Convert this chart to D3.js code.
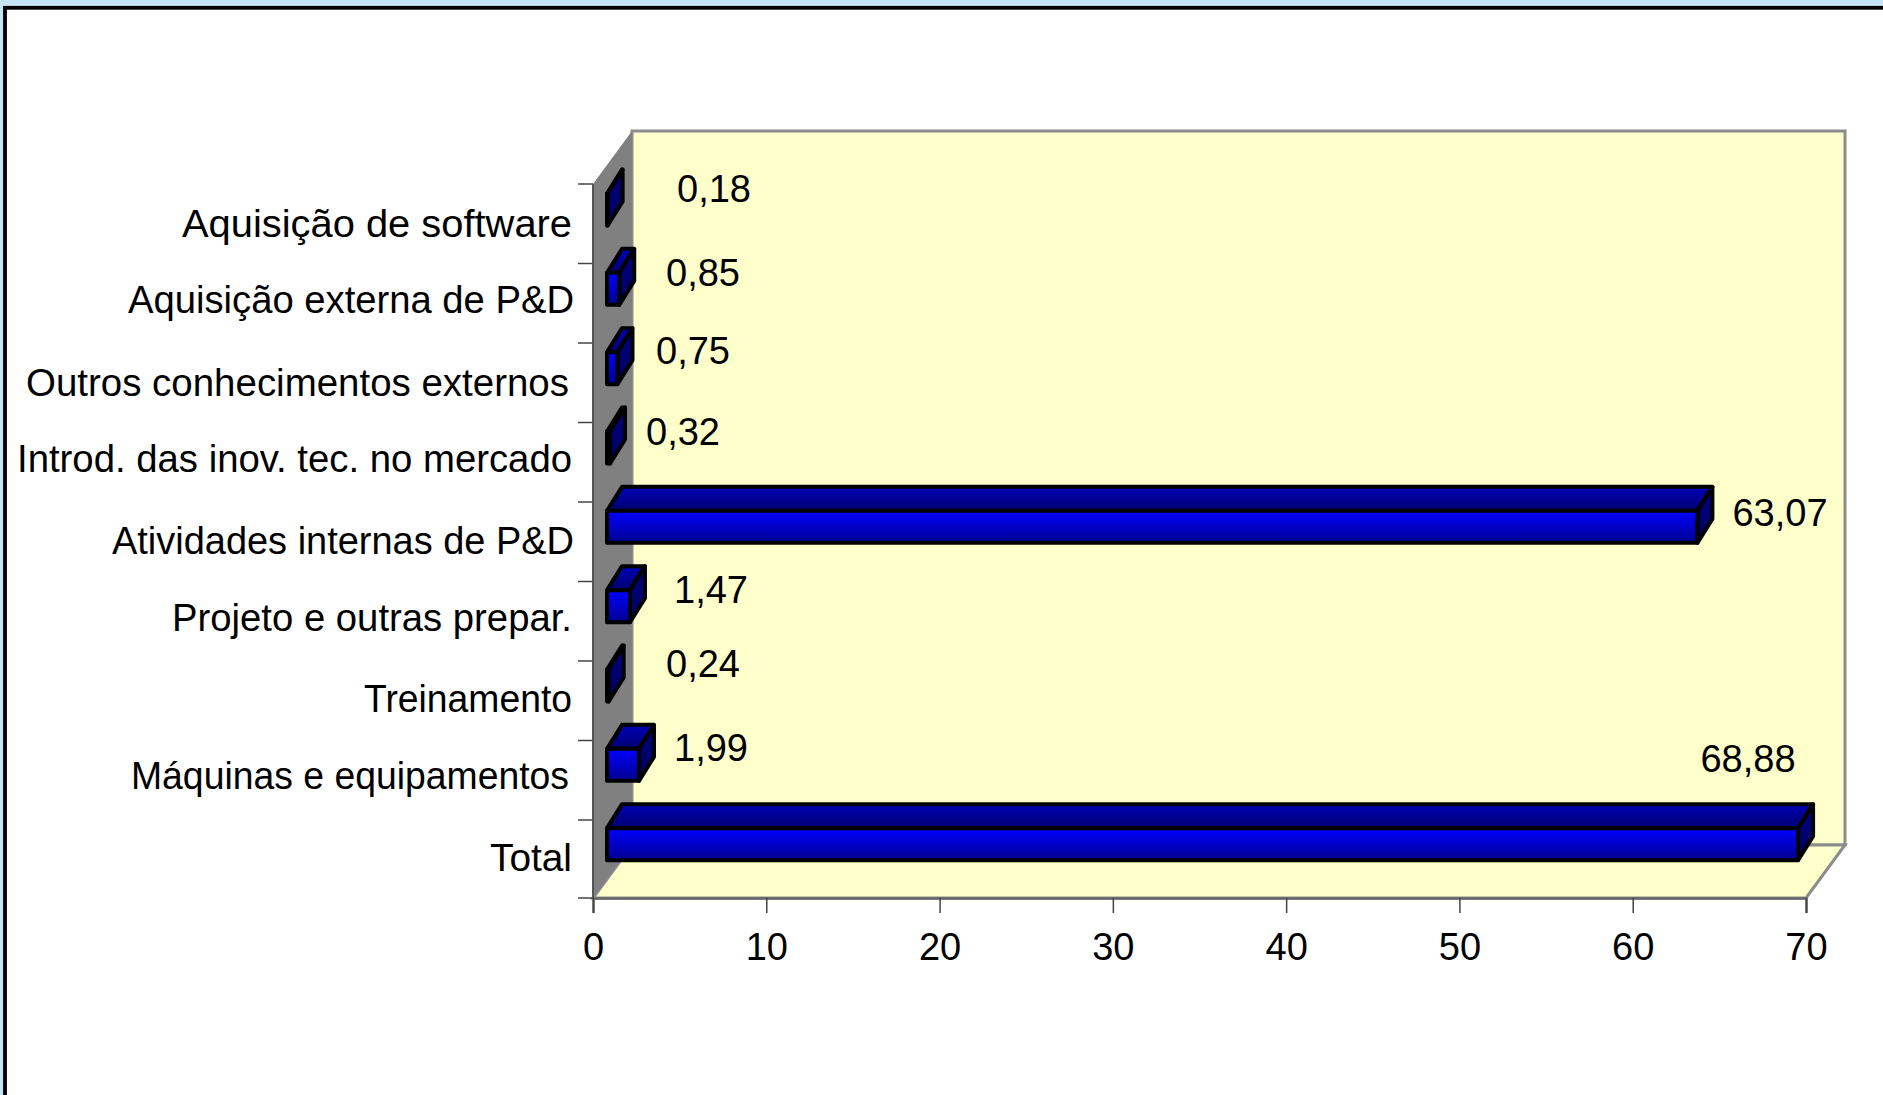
<!DOCTYPE html>
<html><head><meta charset="utf-8">
<script src="https://cdn.jsdelivr.net/npm/d3@7"></script>
<style>html,body{margin:0;padding:0;background:#fff;overflow:hidden}svg{display:block}text{font-family:"Liberation Sans",Arial,sans-serif;fill:#000}</style>
</head><body><svg id="c" width="1883" height="1095"></svg>
<script>
const categories=["Aquisição de software","Aquisição externa de P&D","Outros conhecimentos externos","Introd. das inov. tec. no mercado","Atividades internas de P&D","Projeto e outras prepar.","Treinamento","Máquinas e equipamentos","Total"];
const values=[0.18,0.85,0.75,0.32,63.07,1.47,0.24,1.99,68.88];
const valueLabels=["0,18","0,85","0,75","0,32","63,07","1,47","0,24","1,99","68,88"];
const xTicks=[0,10,20,30,40,50,60,70];
// layout of the hand-placed labels, in the reference's pixels
const labelWidths=[390,446,543,555,462,400,208,438,82];
const labelRight=[572,574,569,572,574,572,572,569,572];
const labelNudge=[-1,-4,-1,-4,-1,-4,-2,-4,-2];
const valueLabelX=[714,703,693,683,1780,711,703,711,1748];
const valueLabelY=[202,286,364,445,526,603,677,761,772];

const L=593,R=1806,T=184,B=898,DX=39,DY=53;
const x=d3.scaleLinear().domain([0,70]).range([L,R]);
const y=d3.scaleBand().domain(categories).range([T,B]);
const tickY=d3.scalePoint().domain(categories).range([T,820]);
const svg=d3.select("#c");
const defs=svg.append("defs");
function grad(id,a,b){const g=defs.append("linearGradient").attr("id",id).attr("x1",0).attr("y1",0).attr("x2",0).attr("y2",1);
 g.append("stop").attr("offset",0).attr("stop-color",a);g.append("stop").attr("offset",1).attr("stop-color",b);}
grad("front","#0000ff","#000090");grad("top","#0000b8","#000070");grad("side","#000080","#000060");

// page frame
svg.append("rect").attr("width",1883).attr("height",1095).attr("fill","#c6e4f6");
svg.append("rect").attr("x",5).attr("y",7.8).attr("width",1890).attr("height",1100).attr("fill","#fff").attr("stroke","#000").attr("stroke-width",3.8);

const poly=(pts)=>d3.line()(pts)+"Z";
const g=svg.append("g");
// back wall, floor, side wall
g.append("path").attr("d",poly([[L+DX,T-DY],[R+DX,T-DY],[R+DX,B-DY],[L+DX,B-DY]])).attr("fill","#ffffcc").attr("stroke","#8c8c8c").attr("stroke-width",3);
g.append("path").attr("d",poly([[L,B],[L+DX,B-DY],[R+DX,B-DY],[R,B]])).attr("fill","#ffffcc").attr("stroke","#8c8c8c").attr("stroke-width",3);
g.append("path").attr("d",poly([[L,T],[L+DX,T-DY],[L+DX,B-DY],[L,B]])).attr("fill","#808080");

// axes
const xAxis=d3.axisBottom(x).tickValues(xTicks).tickSize(15).tickPadding(20).tickFormat(d=>d);
const xg=g.append("g").attr("transform",`translate(0,${B})`).call(xAxis);
xg.select(".domain").attr("stroke","#666").attr("stroke-width",2.5);
xg.selectAll("line").attr("stroke","#444").attr("stroke-width",1.5);
xg.selectAll("text").attr("font-size",38).attr("fill","#000").style("font-family",'"Liberation Sans"');
const catTicks=categories.map(c=>tickY(c)).concat([B]);
g.selectAll(".ytick").data(catTicks).join("line").attr("class","ytick").attr("x1",L-15).attr("x2",L).attr("y1",d=>d).attr("y2",d=>d).attr("stroke","#444").attr("stroke-width",1.5);
g.append("line").attr("x1",L).attr("x2",L).attr("y1",T).attr("y2",B).attr("stroke","#555").attr("stroke-width",2);

// bars
const bdx=15,bdy=24,fh=32;
const base=607, origin=x(0)+11.5;
const bar=g.selectAll(".bar").data(categories).join("g").attr("class","bar");
bar.each(function(c,i){
 const s=d3.select(this), x0=base, x1=origin+x(values[i])-x(0), yb=y(c)+41.5, yt=yb-fh;
 const attrs=p=>p.attr("stroke","#000").attr("stroke-width",4).attr("stroke-linejoin","round");
 attrs(s.append("path").attr("d",poly([[x0,yt],[x1,yt],[x1+bdx,yt-bdy],[x0+bdx,yt-bdy]])).attr("fill","url(#top)"));
 attrs(s.append("path").attr("d",poly([[x1,yt],[x1+bdx,yt-bdy],[x1+bdx,yb-bdy],[x1,yb]])).attr("fill","url(#side)"));
 attrs(s.append("path").attr("d",poly([[x0,yt],[x1,yt],[x1,yb],[x0,yb]])).attr("fill","url(#front)"));
});

// category labels
svg.selectAll(".cat").data(categories).join("text").attr("class","cat")
 .attr("x",(d,i)=>labelRight[i]).attr("y",(d,i)=>y(d)+54+labelNudge[i]).attr("text-anchor","end").attr("font-size",38)
 .attr("textLength",(d,i)=>labelWidths[i]).attr("lengthAdjust","spacingAndGlyphs").text(d=>d);
// value labels
svg.selectAll(".val").data(valueLabels).join("text").attr("class","val")
 .attr("x",(d,i)=>valueLabelX[i]).attr("y",(d,i)=>valueLabelY[i]).attr("text-anchor","middle").attr("font-size",38).text(d=>d);
</script></body></html>
